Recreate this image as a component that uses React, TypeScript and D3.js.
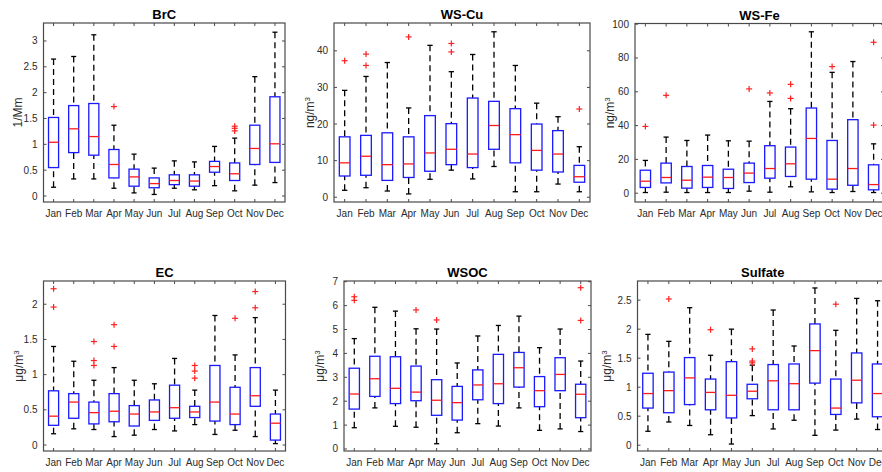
import React from 'react';
import * as d3 from 'd3';

const months = ['Jan', 'Feb', 'Mar', 'Apr', 'May', 'Jun', 'Jul', 'Aug', 'Sep', 'Oct', 'Nov', 'Dec'];

// each row: [lower whisker, Q1, median, Q3, upper whisker]
const brcBoxes = [
  [0.17, 0.55, 1.04, 1.52, 2.65],
  [0.33, 0.84, 1.30, 1.75, 2.70],
  [0.33, 0.79, 1.15, 1.79, 3.12],
  [0.15, 0.35, 0.61, 0.90, 1.37],
  [0.06, 0.19, 0.37, 0.52, 0.81],
  [0.03, 0.16, 0.24, 0.35, 0.54],
  [0.15, 0.22, 0.30, 0.41, 0.68],
  [0.12, 0.19, 0.29, 0.41, 0.66],
  [0.20, 0.46, 0.57, 0.67, 0.96],
  [0.10, 0.30, 0.43, 0.64, 1.12],
  [0.21, 0.61, 0.92, 1.37, 2.31],
  [0.26, 0.65, 1.01, 1.92, 3.17],
];
const brcOutliers = [[], [], [], [1.73], [], [], [], [], [], [1.26, 1.31, 1.35], [], []];

const cuBoxes = [
  [1.9, 5.8, 9.4, 16.5, 29.2],
  [2.6, 6.0, 11.2, 16.9, 33.0],
  [1.7, 4.6, 8.9, 17.6, 36.8],
  [0.9, 5.4, 9.1, 16.5, 24.4],
  [4.9, 7.1, 12.1, 22.3, 41.5],
  [7.4, 8.9, 13.1, 20.1, 34.3],
  [5.0, 8.1, 11.8, 27.1, 39.0],
  [8.4, 13.1, 19.6, 26.2, 45.2],
  [1.5, 9.4, 17.1, 24.2, 36.0],
  [1.5, 7.4, 12.8, 20.0, 25.7],
  [3.6, 6.9, 11.8, 18.2, 22.0],
  [1.5, 4.1, 5.6, 8.7, 13.8],
];
const cuOutliers = [[37.3], [36.0, 39.1], [], [43.8], [], [39.7, 42.0], [], [], [], [], [], [24.1]];

const feBoxes = [
  [0.4, 3.4, 7.1, 13.6, 19.4],
  [0.6, 6.1, 9.3, 17.8, 33.2],
  [0.4, 3.0, 7.7, 15.8, 31.2],
  [0.4, 3.4, 9.5, 16.4, 34.4],
  [0.4, 2.8, 9.3, 14.2, 31.0],
  [1.2, 6.3, 11.9, 17.8, 30.8],
  [0.6, 8.9, 14.6, 28.1, 54.3],
  [3.8, 9.9, 17.4, 27.3, 50.0],
  [0.8, 8.3, 32.4, 50.4, 95.5],
  [0.4, 2.4, 8.3, 31.2, 71.5],
  [1.0, 4.7, 14.6, 43.5, 77.9],
  [0.4, 2.0, 5.1, 16.8, 29.2],
];
const feOutliers = [[39.5], [57.9], [], [], [], [61.7], [59.3], [56.1, 64.4], [], [74.9], [], [40.3, 89.3]];

const ecBoxes = [
  [0.16, 0.28, 0.41, 0.77, 1.40],
  [0.23, 0.38, 0.61, 0.73, 1.19],
  [0.22, 0.30, 0.46, 0.61, 0.92],
  [0.12, 0.33, 0.48, 0.73, 1.10],
  [0.14, 0.27, 0.44, 0.56, 0.92],
  [0.22, 0.35, 0.47, 0.64, 0.87],
  [0.20, 0.38, 0.53, 0.85, 1.23],
  [0.29, 0.39, 0.47, 0.55, 0.78],
  [0.15, 0.34, 0.61, 1.13, 1.84],
  [0.21, 0.29, 0.44, 0.82, 1.28],
  [0.12, 0.55, 0.70, 1.10, 1.81],
  [0.02, 0.07, 0.31, 0.44, 0.78],
];
const ecOutliers = [[1.96, 2.22], [], [1.13, 1.20, 1.47], [1.40, 1.71], [], [], [], [0.95, 1.05, 1.13], [], [1.80], [1.95, 2.18], []];

const wsocBoxes = [
  [0.89, 1.67, 2.30, 3.38, 4.62],
  [1.72, 2.20, 2.94, 3.88, 5.93],
  [0.95, 1.90, 2.54, 3.86, 5.77],
  [0.91, 2.02, 2.38, 3.47, 5.03],
  [0.22, 1.41, 2.04, 2.90, 5.02],
  [0.68, 1.21, 1.94, 2.62, 3.60],
  [1.06, 2.06, 2.68, 3.31, 4.73],
  [0.96, 1.90, 2.73, 3.96, 5.17],
  [1.72, 2.59, 3.40, 4.04, 5.56],
  [0.78, 1.77, 2.44, 3.03, 4.24],
  [0.84, 2.44, 3.12, 3.82, 5.02],
  [0.73, 1.31, 2.29, 2.71, 3.68],
];
const wsocOutliers = [[6.22, 6.37], [], [], [5.82], [5.40], [], [], [], [], [], [], [5.38, 6.75]];

const sulfateBoxes = [
  [0.24, 0.64, 0.89, 1.24, 1.91],
  [0.40, 0.56, 0.94, 1.26, 1.79],
  [0.34, 0.70, 1.16, 1.51, 2.37],
  [0.18, 0.61, 0.91, 1.14, 1.55],
  [0.02, 0.47, 0.86, 1.44, 2.00],
  [0.51, 0.80, 0.93, 1.05, 1.38],
  [0.28, 0.61, 1.11, 1.39, 2.33],
  [0.43, 0.61, 1.06, 1.40, 1.71],
  [0.17, 1.07, 1.63, 2.09, 2.71],
  [0.26, 0.53, 0.64, 1.14, 1.98],
  [0.45, 0.73, 1.12, 1.59, 2.53],
  [0.27, 0.49, 0.89, 1.40, 2.49],
];
const sulfateOutliers = [[], [2.52], [], [1.99], [], [1.42, 1.45, 1.66], [], [], [], [2.43], [], []];

const brcTicks = [0, 0.5, 1, 1.5, 2, 2.5, 3];
const cuTicks = [0, 10, 20, 30, 40];
const feTicks = [0, 20, 40, 60, 80, 100];
const ecTicks = [0, 0.5, 1, 1.5, 2];
const wsocTicks = [0, 1, 2, 3, 4, 5, 6, 7];
const sulfateTicks = [0, 0.5, 1, 1.5, 2, 2.5];

type Panel = {
  title: string;
  unit: string;
  sup: boolean;
  boxes: number[][];
  outliers: number[][];
  ticks: number[];
  domain: [number, number];
  frame: [number, number, number, number]; // left, top, right, bottom
  labelX: number;
};

const panels: Panel[] = [
  { title: 'BrC', unit: '1/Mm', sup: false, boxes: brcBoxes, outliers: brcOutliers, ticks: brcTicks, domain: [-0.116, 3.348], frame: [43.5, 23, 285, 202], labelX: 18 },
  { title: 'WS-Cu', unit: 'ng/m', sup: true, boxes: cuBoxes, outliers: cuOutliers, ticks: cuTicks, domain: [-1.3, 47.6], frame: [334, 23, 590, 202], labelX: 310 },
  { title: 'WS-Fe', unit: 'ng/m', sup: true, boxes: feBoxes, outliers: feOutliers, ticks: feTicks, domain: [-5.2, 100.4], frame: [635, 23.5, 884, 202], labelX: 610 },
  { title: 'EC', unit: 'μg/m', sup: true, boxes: ecBoxes, outliers: ecOutliers, ticks: ecTicks, domain: [-0.085, 2.33], frame: [43.5, 281, 285.5, 451], labelX: 19 },
  { title: 'WSOC', unit: 'μg/m', sup: true, boxes: wsocBoxes, outliers: wsocOutliers, ticks: wsocTicks, domain: [-0.084, 7.03], frame: [344, 281, 591, 451], labelX: 320 },
  { title: 'Sulfate', unit: 'μg/m', sup: true, boxes: sulfateBoxes, outliers: sulfateOutliers, ticks: sulfateTicks, domain: [-0.1, 2.83], frame: [637.5, 281, 888, 451], labelX: 607 },
];

const FONT = '"Liberation Sans", Arial, Helvetica, sans-serif';
const AXIS = '#4a4a4a';
const TEXT = '#2b2b2b';

function BoxPanel({ p }: { p: Panel }) {
  const [l, t, r, b] = p.frame;
  const x = d3.scaleLinear().domain([0.5, 12.5]).range([l, r]);
  const y = d3.scaleLinear().domain(p.domain).range([b, t]);
  const step = x(2) - x(1);
  const bw = step * 0.5;
  const cw = bw * 0.5;
  const tickLen = 3;
  const fmt = d3.format('~g');
  const cy = (t + b) / 2;
  return (
    <g>
      {p.boxes.map((s, i) => {
        const cx = x(i + 1);
        const [lo, q1, med, q3, hi] = s;
        return (
          <g key={i}>
            <line x1={cx} x2={cx} y1={y(hi)} y2={y(q3)} stroke="#000" strokeWidth={1.3} strokeDasharray="6,4" />
            <line x1={cx} x2={cx} y1={y(lo)} y2={y(q1)} stroke="#000" strokeWidth={1.3} strokeDasharray="6,4" />
            <line x1={cx - cw / 2} x2={cx + cw / 2} y1={y(hi)} y2={y(hi)} stroke="#000" strokeWidth={1.3} />
            <line x1={cx - cw / 2} x2={cx + cw / 2} y1={y(lo)} y2={y(lo)} stroke="#000" strokeWidth={1.3} />
            <rect x={cx - bw / 2} y={y(q3)} width={bw} height={y(q1) - y(q3)} fill="none" stroke="#1a1aff" strokeWidth={1.3} />
            <line x1={cx - bw / 2} x2={cx + bw / 2} y1={y(med)} y2={y(med)} stroke="#ff1a1a" strokeWidth={1.3} />
            {p.outliers[i].map((v, k) => (
              <g key={k} stroke="#ff2020" strokeWidth={1.2}>
                <line x1={cx - 3} x2={cx + 3} y1={y(v)} y2={y(v)} />
                <line x1={cx} x2={cx} y1={y(v) - 3} y2={y(v) + 3} />
              </g>
            ))}
          </g>
        );
      })}
      <rect x={l} y={t} width={r - l} height={b - t} fill="none" stroke={AXIS} strokeWidth={1.2} />
      {months.map((m, i) => {
        const cx = x(i + 1);
        return (
          <g key={m}>
            <line x1={cx} x2={cx} y1={b} y2={b - tickLen} stroke={AXIS} strokeWidth={1} />
            <line x1={cx} x2={cx} y1={t} y2={t + tickLen} stroke={AXIS} strokeWidth={1} />
            <text x={cx} y={b + 15} textAnchor="middle" fontSize={10} fontFamily={FONT} fill={TEXT}>{m}</text>
          </g>
        );
      })}
      {p.ticks.map((v) => (
        <g key={v}>
          <line x1={l} x2={l + tickLen} y1={y(v)} y2={y(v)} stroke={AXIS} strokeWidth={1} />
          <line x1={r} x2={r - tickLen} y1={y(v)} y2={y(v)} stroke={AXIS} strokeWidth={1} />
          <text x={l - 6} y={y(v)} dy="0.35em" textAnchor="end" fontSize={10} fontFamily={FONT} fill={TEXT}>{fmt(v)}</text>
        </g>
      ))}
      <text x={(l + r) / 2} y={t - 4} textAnchor="middle" fontSize={13} fontWeight="bold" fontFamily={FONT} fill="#000">{p.title}</text>
      <text transform={`translate(${p.labelX},${cy}) rotate(-90)`} textAnchor="middle" dy="0.35em" fontSize={12} fontFamily={FONT} fill={TEXT}>
        {p.unit}
        {p.sup ? <tspan fontSize={8} dy="-0.5em">3</tspan> : null}
      </text>
    </g>
  );
}

export default function App() {
  return (
    <svg width={882} height={472} style={{ position: 'absolute', left: 0, top: 0, background: '#fff' }}>
      <rect x={0} y={0} width={882} height={472} fill="#fff" />
      {panels.map((p) => (
        <BoxPanel key={p.title} p={p} />
      ))}
    </svg>
  );
}
